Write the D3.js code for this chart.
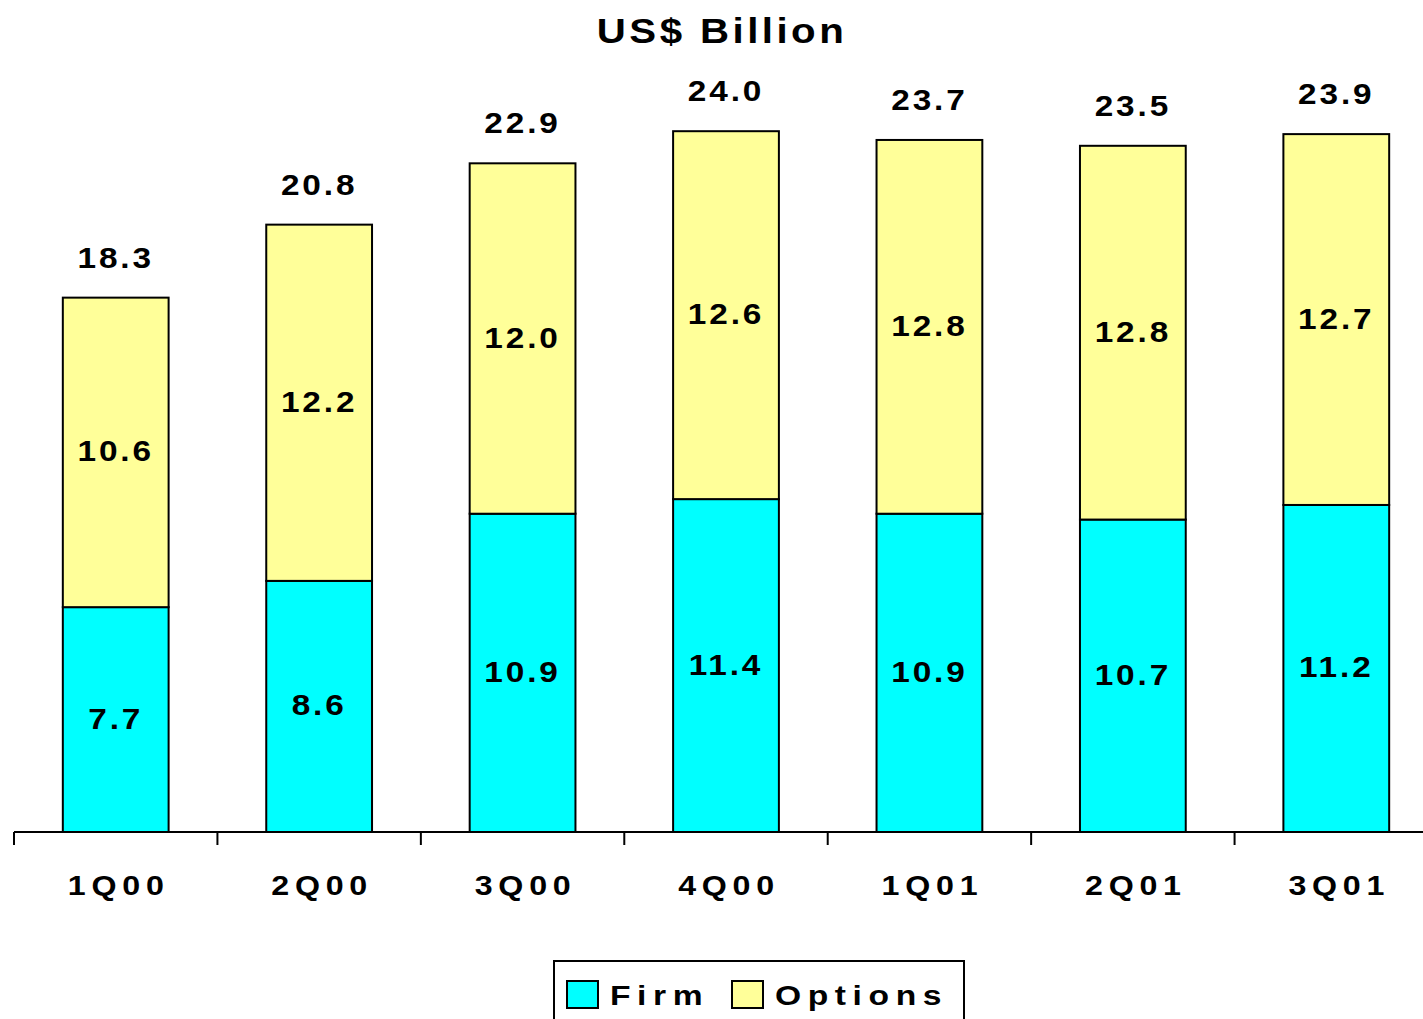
<!DOCTYPE html>
<html>
<head>
<meta charset="utf-8">
<script src="https://cdn.jsdelivr.net/npm/d3@7"></script>
<style>
  body { margin: 0; background: #fff; }
  text { font-family: "Liberation Sans", Arial, sans-serif; font-weight: bold; fill: #000; }
</style>
</head>
<body>
<div id="chart"></div>
<script>
// data
var quarters = ["1Q00", "2Q00", "3Q00", "4Q00", "1Q01", "2Q01", "3Q01"];
var firm     = [7.7, 8.6, 10.9, 11.4, 10.9, 10.7, 11.2];
var options  = [10.6, 12.2, 12.0, 12.6, 12.8, 12.8, 12.7];
var totals   = [18.3, 20.8, 22.9, 24.0, 23.7, 23.5, 23.9];
var seriesNames = ["Firm", "Options"];
var seriesColors = ["#00FFFF", "#FFFF99"];

(function() {
	var width = 1423, height = 1019;

	// the original uses a wide bold face; stretch Liberation Sans a little
	function place(x, y, sx) {
		return "translate(" + x + "," + y + ") scale(" + sx + ",1)";
	}

	var svg = d3.select("#chart").append("svg")
					.attr("width", width)
					.attr("height", height);

	var x = d3.scaleBand()
				.domain(quarters)
				.range([14, 1438])
				.paddingInner(0.48)
				.paddingOuter(0.24);

	var y = d3.scaleLinear()
				.domain([0, 25])
				.range([832, 832 - 25 * 29.2]);

	// title
	svg.append("text")
		.attr("transform", place(722, 43, 1.15))
		.attr("text-anchor", "middle")
		.attr("font-size", 35)
		.attr("letter-spacing", 3)
		.text("US$ Billion");

	var rows = quarters.map(function(q, i) {
		return { q: q, Firm: firm[i], Options: options[i], total: totals[i] };
	});
	var stacked = d3.stack().keys(seriesNames)(rows);

	var groups = svg.selectAll("g.series")
					.data(stacked)
					.enter()
					.append("g")
					.attr("class", "series")
					.attr("fill", function(d, i) { return seriesColors[i]; });

	groups.selectAll("rect")
		.data(function(d) { return d; })
		.enter()
		.append("rect")
		.attr("x", function(d) { return x(d.data.q); })
		.attr("y", function(d) { return y(d[1]); })
		.attr("width", x.bandwidth())
		.attr("height", function(d) { return y(d[0]) - y(d[1]); })
		.attr("stroke", "#000")
		.attr("stroke-width", 2);

	// segment labels
	groups.selectAll("text")
		.data(function(d) { return d; })
		.enter()
		.append("text")
		.attr("transform", function(d) {
			return place(x(d.data.q) + x.bandwidth() / 2, y((d[0] + d[1]) / 2) + 9, 1.15);
		})
		.attr("text-anchor", "middle")
		.attr("font-size", 29)
		.attr("letter-spacing", 2.5)
		.attr("fill", "#000")
		.text(function(d) { return (d[1] - d[0]).toFixed(1); });

	// totals above bars
	svg.selectAll("text.total")
		.data(rows)
		.enter()
		.append("text")
		.attr("class", "total")
		.attr("transform", function(d) {
			return place(x(d.q) + x.bandwidth() / 2, y(d.total) - 30, 1.15);
		})
		.attr("text-anchor", "middle")
		.attr("font-size", 29)
		.attr("letter-spacing", 2.5)
		.text(function(d) { return d.total.toFixed(1); });

	// category axis
	var axis = svg.append("g");
	axis.append("line")
		.attr("x1", 14).attr("x2", width)
		.attr("y1", y(0)).attr("y2", y(0))
		.attr("stroke", "#000").attr("stroke-width", 2);

	axis.selectAll("line.tick")
		.data(quarters)
		.enter()
		.append("line")
		.attr("class", "tick")
		.attr("x1", function(d) { return x(d) - x.step() * x.paddingInner() / 2; })
		.attr("x2", function(d) { return x(d) - x.step() * x.paddingInner() / 2; })
		.attr("y1", y(0))
		.attr("y2", y(0) + 13)
		.attr("stroke", "#000").attr("stroke-width", 2);

	axis.selectAll("text")
		.data(quarters)
		.enter()
		.append("text")
		.attr("transform", function(d) { return place(x(d) + x.bandwidth() / 2 + 3, 895, 1.15); })
		.attr("text-anchor", "middle")
		.attr("font-size", 28)
		.attr("letter-spacing", 5)
		.text(function(d) { return d; });

	// legend
	var legend = svg.append("g");
	legend.append("rect")
		.attr("x", 554).attr("y", 961)
		.attr("width", 410).attr("height", 80)
		.attr("fill", "#fff")
		.attr("stroke", "#000").attr("stroke-width", 2);

	var legendX = [567, 732];
	var items = legend.selectAll("g.item")
					.data(seriesNames)
					.enter()
					.append("g")
					.attr("class", "item")
					.attr("transform", function(d, i) { return "translate(" + legendX[i] + ",981)"; });

	items.append("rect")
		.attr("width", 31).attr("height", 27)
		.attr("fill", function(d, i) { return seriesColors[i]; })
		.attr("stroke", "#000").attr("stroke-width", 2);

	items.append("text")
		.attr("transform", place(43, 24, 1.2))
		.attr("font-size", 28)
		.attr("letter-spacing", 5.5)
		.text(function(d) { return d; });
})();
</script>
</body>
</html>
